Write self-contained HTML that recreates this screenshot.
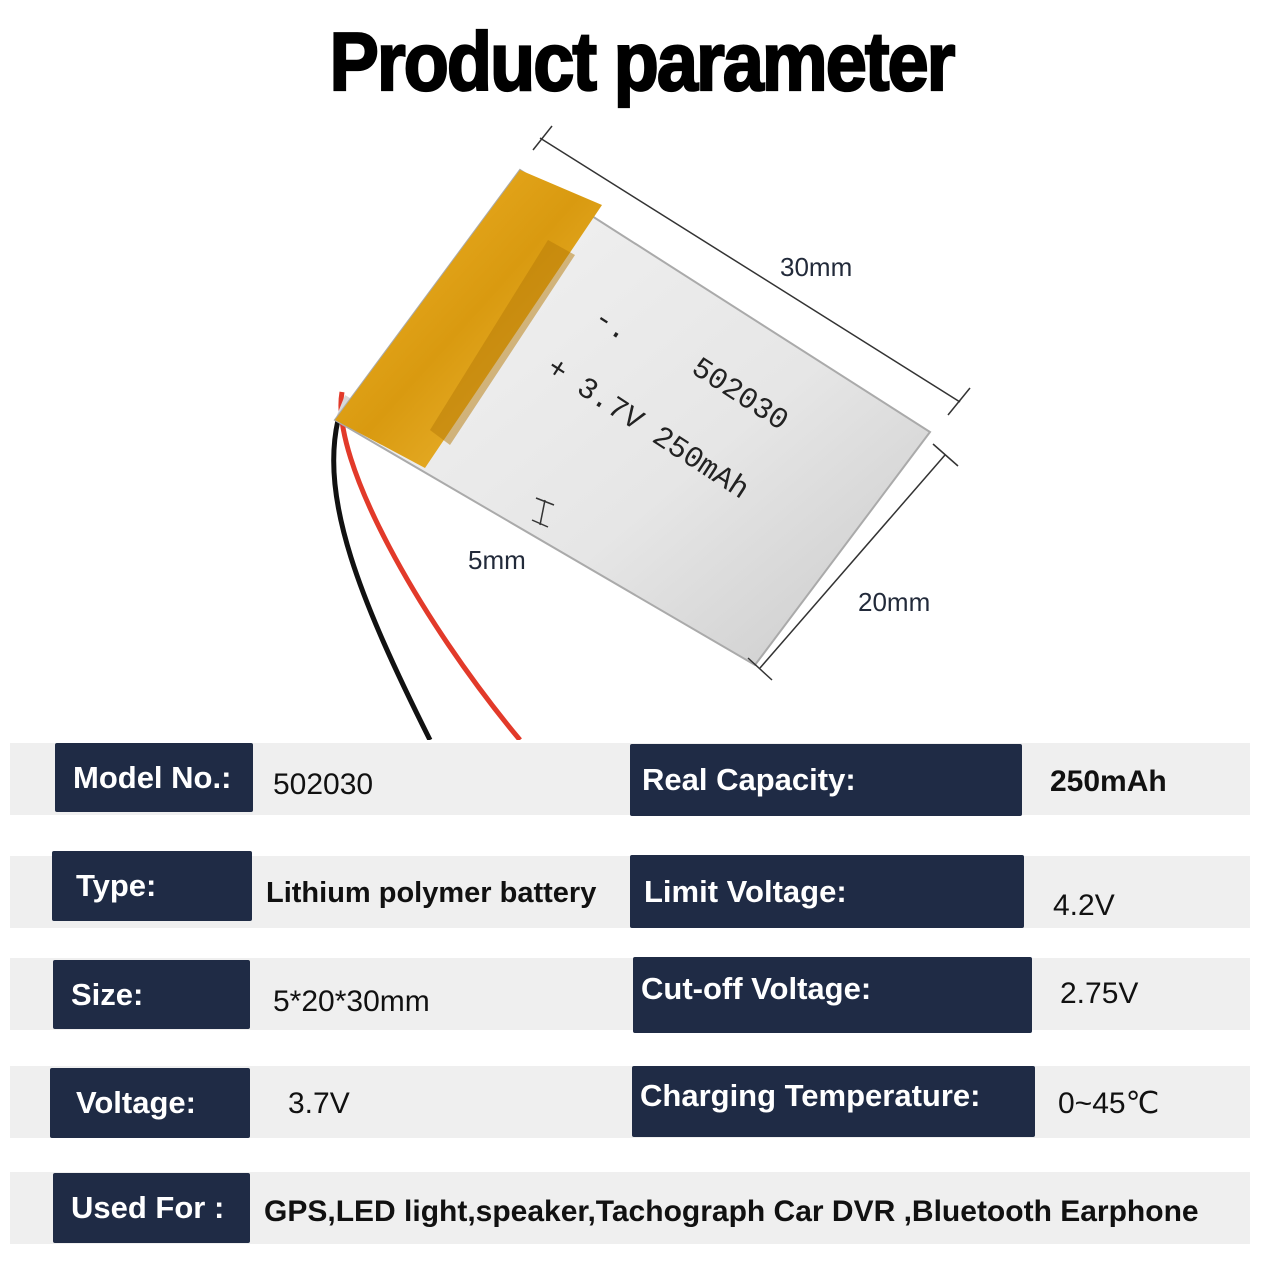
<!DOCTYPE html>
<html><head><meta charset="utf-8"><style>
body{margin:0;width:1283px;height:1263px;background:#fff;position:relative;overflow:hidden;font-family:"Liberation Sans",sans-serif}
.t{position:absolute;left:0;width:1283px;top:14px;text-align:center;font-weight:bold;font-size:74px;letter-spacing:-2px;color:#000;-webkit-text-stroke:2px #000;transform:scaleY(1.12);transform-origin:center top}
.row{position:absolute;left:10px;width:1240px;height:72px;background:#efefef}
.k{position:absolute;background:#1f2b45;color:#fff;font-weight:bold;font-size:31px;box-sizing:border-box;padding-left:18px;display:flex;align-items:center;border-radius:2px}
.v{position:absolute;color:#111;font-size:30px;font-weight:bold}
.d{position:absolute;color:#222a3a;font-size:26px}
</style></head><body>
<div class="t">Product parameter</div>
<svg width="1283" height="740" style="position:absolute;left:0;top:0">
<defs>
<linearGradient id="y" x1="0" y1="0" x2="1" y2="1"><stop offset="0" stop-color="#f2b42a"/><stop offset="0.5" stop-color="#d99a10"/><stop offset="1" stop-color="#f4c040"/></linearGradient>
<linearGradient id="s" x1="0" y1="0" x2="1" y2="1"><stop offset="0" stop-color="#f4f4f4"/><stop offset="0.6" stop-color="#e6e6e6"/><stop offset="1" stop-color="#c9c9c9"/></linearGradient>
</defs>
<path d="M338,420 C320,500 360,600 430,740" stroke="#111" stroke-width="5" fill="none"/>
<path d="M342,392 C330,460 420,620 520,740" stroke="#e23a2a" stroke-width="5" fill="none"/>
<polygon points="335,420 755,665 750,640 345,395" fill="#d8d8d8"/>
<polygon points="520,170 930,432 755,665 335,420" fill="url(#s)" stroke="#aaa" stroke-width="2"/>
<polygon points="520,170 602,205 425,468 335,420" fill="url(#y)"/>
<polygon points="548,240 575,255 450,445 430,430" fill="#b57a08" opacity="0.5"/>
<text x="0" y="0" font-family="Liberation Mono" font-size="30" fill="#222" transform="translate(690,372) rotate(33)">502030</text>
<text x="0" y="0" font-family="Liberation Mono" font-size="30" fill="#222" transform="translate(545,372) rotate(33)">+ 3.7V 250mAh</text>
<text x="0" y="0" font-family="Liberation Mono" font-size="30" fill="#222" transform="translate(592,322) rotate(33)">-.</text>
<g stroke="#333" stroke-width="1.5">
<line x1="540" y1="138" x2="960" y2="402"/><line x1="533" y1="150" x2="552" y2="126"/><line x1="948" y1="415" x2="970" y2="388"/>
<line x1="945" y1="455" x2="760" y2="668"/><line x1="933" y1="444" x2="958" y2="466"/><line x1="748" y1="658" x2="772" y2="680"/>
<line x1="545" y1="500" x2="540" y2="525"/><line x1="536" y1="498" x2="554" y2="505"/><line x1="532" y1="520" x2="548" y2="527"/>
</g>
</svg>
<div class="d" style="left:780px;top:252px">30mm</div>
<div class="d" style="left:468px;top:545px">5mm</div>
<div class="d" style="left:858px;top:587px">20mm</div>

<div class="row" style="top:743px"></div>
<div class="row" style="top:856px"></div>
<div class="row" style="top:958px"></div>
<div class="row" style="top:1066px"></div>
<div class="row" style="top:1172px"></div>

<div class="k" style="left:55px;top:743px;width:198px;height:69px">Model No.:</div>
<div class="k" style="left:52px;top:851px;width:200px;height:70px;padding-left:24px">Type:</div>
<div class="k" style="left:53px;top:960px;width:197px;height:69px">Size:</div>
<div class="k" style="left:50px;top:1068px;width:200px;height:70px;padding-left:26px">Voltage:</div>
<div class="k" style="left:53px;top:1173px;width:197px;height:70px">Used For :</div>

<div class="k" style="left:630px;top:744px;width:392px;height:72px;padding-left:12px">Real Capacity:</div>
<div class="k" style="left:630px;top:855px;width:394px;height:73px;padding-left:14px">Limit Voltage:</div>
<div class="k" style="left:633px;top:957px;width:399px;height:76px;padding-left:8px;align-items:flex-start;padding-top:14px">Cut-off Voltage:</div>
<div class="k" style="left:632px;top:1066px;width:403px;height:71px;padding-left:8px;align-items:flex-start;padding-top:12px">Charging Temperature:</div>

<div class="v" style="left:273px;top:768px;font-weight:normal">502030</div>
<div class="v" style="left:266px;top:877px;font-size:29px">Lithium polymer battery</div>
<div class="v" style="left:273px;top:985px;font-weight:normal">5*20*30mm</div>
<div class="v" style="left:288px;top:1087px;font-weight:normal">3.7V</div>
<div class="v" style="left:264px;top:1195px;font-size:30px">GPS,LED light,speaker,Tachograph Car DVR ,Bluetooth Earphone</div>
<div class="v" style="left:1050px;top:765px">250mAh</div>
<div class="v" style="left:1053px;top:889px;font-weight:normal">4.2V</div>
<div class="v" style="left:1060px;top:977px;font-weight:normal">2.75V</div>
<div class="v" style="left:1058px;top:1086px;font-weight:normal">0~45℃</div>
</body></html>
